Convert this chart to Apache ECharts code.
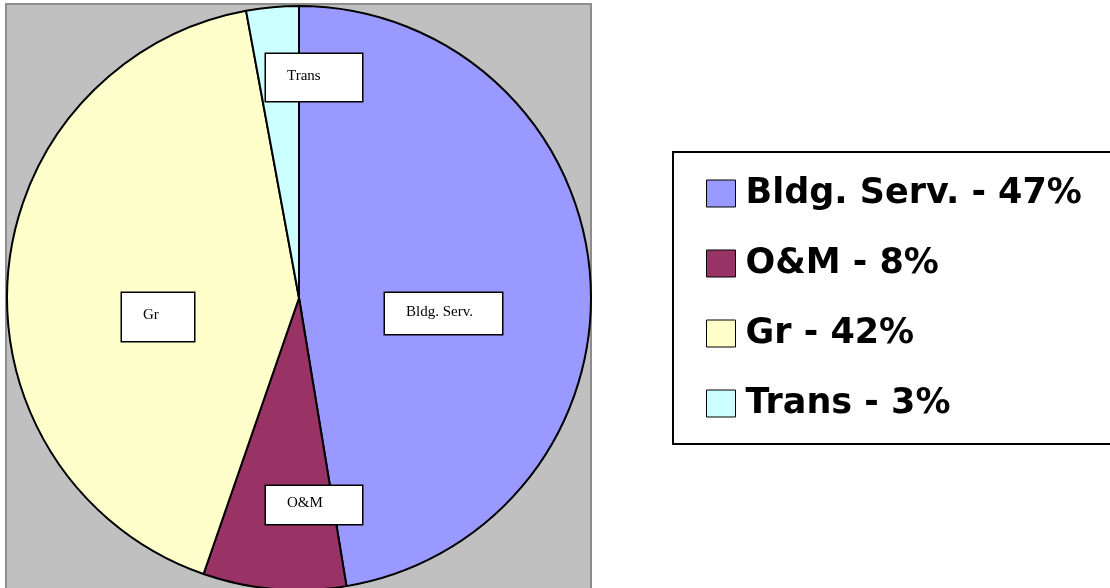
<!DOCTYPE html>
<html>
<head>
<meta charset="utf-8">
<script src="https://cdn.jsdelivr.net/npm/echarts@6/dist/echarts.min.js"></script>
<style>
  html, body { margin: 0; padding: 0; background: #fff; }
  #chart { width: 1110px; height: 588px; }
</style>
</head>
<body>
<div id="chart"></div>
<script>
// data
const categories = ['Bldg. Serv.', 'O&M', 'Gr', 'Trans']
const shares = [47.4, 7.9, 41.8, 2.9]

const colors = ['#9999ff', '#993366', '#ffffcc', '#ccffff']
// label boxes (Excel had them moved by hand): left, top, width, height
const labelBoxes = [
  [385, 293, 117, 41],
  [266, 486, 96, 38],
  [122, 293, 72, 48],
  [266, 54, 96, 47]
]

const total = shares.reduce((a, b) => a + b, 0)
const pct = {}
categories.forEach((c, i) => {
  pct[c] = Math.round((shares[i] / total) * 100)
})

let myChart = echarts.init(document.getElementById('chart'))
let option = {
  animation: false,
  color: colors,
  // grey plot area behind the pie
  graphic: [
    {
      type: 'rect',
      z: -1,
      shape: { x: 6, y: 4, width: 585, height: 590 },
      style: { fill: '#c0c0c0', stroke: '#8c8c8c', lineWidth: 2 }
    }
  ],
  legend: {
    orient: 'vertical',
    left: 673,
    top: 152,
    width: 436,
    backgroundColor: '#fff',
    borderColor: '#000',
    borderWidth: 2,
    padding: [24, 60, 23, 33],
    itemGap: 35,
    itemWidth: 29,
    itemHeight: 27,
    icon: 'rect',
    itemStyle: { borderColor: '#000', borderWidth: 1 },
    textStyle: {
      fontFamily: 'DejaVu Sans, Liberation Sans, Arial, sans-serif',
      fontWeight: 'bold',
      fontSize: 35,
      lineHeight: 35,
      color: '#000',
      padding: [0, 0, 0, 5]
    },
    formatter: name => name + ' - ' + pct[name] + '%',
    data: categories
  },
  series: [
    {
      name: 'share',
      type: 'pie',
      center: [299, 298],
      radius: 292,
      startAngle: 90,
      clockwise: true,
      itemStyle: { borderColor: '#000', borderWidth: 2 },
      emphasis: { disabled: true },
      labelLine: { show: false },
      label: {
        show: true,
        position: 'inside',
        fontFamily: 'Liberation Serif, Times New Roman, serif',
        fontSize: 15,
        lineHeight: 16,
        color: '#000',
        backgroundColor: '#fff',
        borderColor: '#000',
        borderWidth: 1.5
      },
      labelLayout: params => {
        const b = labelBoxes[params.dataIndex]
        return { x: b[0], y: b[1], align: 'left', verticalAlign: 'top' }
      },
      data: categories.map((c, i) => {
        const b = labelBoxes[i]
        const padTop = Math.round((b[3] - 16) / 2) - 2
        return {
          name: c,
          value: shares[i],
          label: {
            width: b[2] - 21,
            padding: [padTop, 0, b[3] - 16 - padTop, 21]
          }
        }
      })
    }
  ]
}
myChart.setOption(option)
</script>
</body>
</html>
